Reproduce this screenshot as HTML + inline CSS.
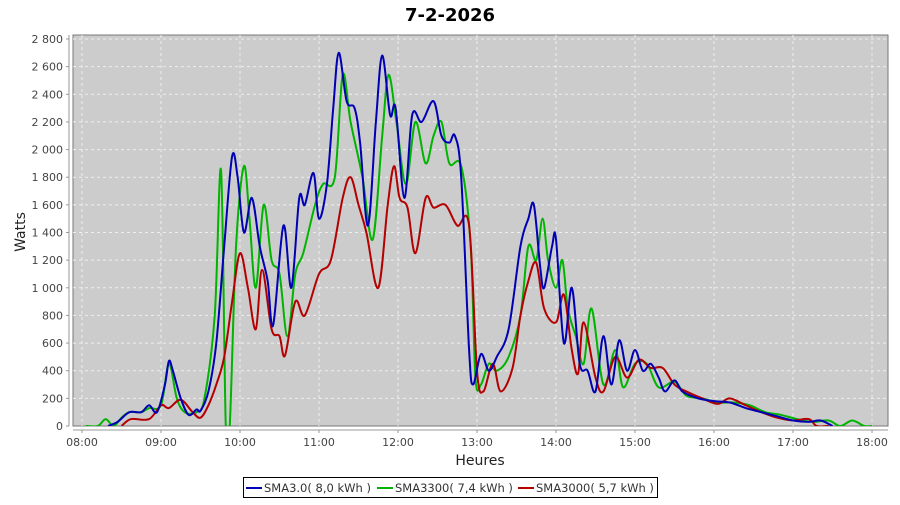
<!DOCTYPE html>
<html><head><meta charset="utf-8"><style>
body{margin:0;background:#fff;}
svg text{font-family:"DejaVu Sans","Liberation Sans",sans-serif;}
</style></head><body>
<svg id="s" width="900" height="500" xmlns="http://www.w3.org/2000/svg">
<rect width="900" height="500" fill="#fff"/>
<text x="450" y="21" text-anchor="middle" font-size="18" font-weight="bold" fill="#000">7-2-2026</text>
<rect x="73" y="35" width="815" height="391" fill="#cccccc" stroke="#777" stroke-width="1"/>
<g id="grid" stroke="#eee" stroke-width="1" stroke-dasharray="3,3"></g>
<line x1="69" y1="35" x2="69" y2="426" stroke="#999"/>
<line x1="73" y1="430" x2="888" y2="430" stroke="#999"/>
<g id="ticks" font-size="11" fill="#444"></g>
<text x="25" y="232" font-size="14" fill="#222" text-anchor="middle" transform="rotate(-90 25 232)">Watts</text>
<text x="480" y="465" font-size="14" fill="#222" text-anchor="middle">Heures</text>
<clipPath id="c"><rect x="73" y="35" width="815" height="391"/></clipPath>
<g id="lines" clip-path="url(#c)" fill="none" stroke-width="2" stroke-linejoin="round"></g>
<rect x="243.5" y="477.5" width="414" height="20" fill="#fff" stroke="#000"/>
<line x1="246" y1="488" x2="262" y2="488" stroke="#0000b4" stroke-width="2"/>
<text x="264" y="492" font-size="11.5" fill="#333">SMA3.0( 8,0 kWh )</text>
<line x1="377" y1="488" x2="393" y2="488" stroke="#00b400" stroke-width="2"/>
<text x="395" y="492" font-size="11.5" fill="#333">SMA3300( 7,4 kWh )</text>
<line x1="518" y1="488" x2="534" y2="488" stroke="#b40000" stroke-width="2"/>
<text x="536" y="492" font-size="11.5" fill="#333">SMA3000( 5,7 kWh )</text>
</svg>
<script>
const NS="http://www.w3.org/2000/svg";
const X=h=>82+(h-8)*79, Y=v=>426-v*(387/2800);
const g=document.getElementById('grid'),t=document.getElementById('ticks');
function el(p,tag,a,txt){const e=document.createElementNS(NS,tag);for(const k in a)e.setAttribute(k,a[k]);if(txt)e.textContent=txt;p.appendChild(e);}
for(let v=0;v<=2800;v+=200){const y=Y(v);if(v>0)el(g,'line',{x1:73,x2:888,y1:y,y2:y});el(t,'line',{x1:66,x2:69,y1:y,y2:y,stroke:'#999'});el(t,'text',{x:63,y:y+4,'text-anchor':'end'},v>=1000?(''+v)[0]+' '+(''+v).slice(1):''+v);}
for(let h=8;h<=18;h++){const x=X(h);el(g,'line',{x1:x,x2:x,y1:35,y2:426});el(t,'line',{x1:x,x2:x,y1:430,y2:433,stroke:'#999'});el(t,'text',{x:x,y:446,'text-anchor':'middle'},(h<10?'0':'')+h+':00');}
const B=[[8.33,0],[8.45,30],[8.6,100],[8.75,100],[8.85,150],[8.95,100],[9.05,300],[9.1,470],[9.15,400],[9.25,200],[9.35,80],[9.45,120],[9.5,110],[9.6,250],[9.7,600],[9.8,1300],[9.9,1950],[9.97,1800],[10.05,1400],[10.15,1650],[10.25,1300],[10.35,1050],[10.42,730],[10.55,1450],[10.65,1000],[10.75,1650],[10.82,1600],[10.93,1830],[11.0,1500],[11.1,1750],[11.18,2300],[11.25,2700],[11.35,2350],[11.45,2300],[11.52,2050],[11.62,1450],[11.72,2200],[11.8,2680],[11.9,2250],[11.97,2300],[12.08,1650],[12.18,2250],[12.3,2200],[12.45,2350],[12.55,2100],[12.65,2050],[12.72,2100],[12.8,1800],[12.9,550],[12.95,300],[13.05,520],[13.15,400],[13.25,500],[13.4,700],[13.55,1300],[13.65,1500],[13.72,1600],[13.8,1150],[13.85,1000],[13.95,1300],[14.0,1350],[14.1,600],[14.2,1000],[14.3,450],[14.4,400],[14.5,250],[14.6,650],[14.7,300],[14.8,620],[14.9,400],[15.0,550],[15.1,400],[15.2,450],[15.3,350],[15.38,250],[15.5,330],[15.6,250],[15.8,200],[16.0,180],[16.2,170],[16.4,130],[16.6,100],[16.8,70],[17.0,40],[17.2,30],[17.35,40],[17.5,0]];
const G=[[8.05,0],[8.2,0],[8.3,50],[8.4,0],[8.5,60],[8.6,100],[8.75,100],[8.85,130],[9.0,150],[9.1,450],[9.2,200],[9.3,100],[9.45,100],[9.55,200],[9.68,800],[9.76,1850],[9.82,0],[9.87,0],[9.95,1300],[10.05,1880],[10.12,1500],[10.2,1000],[10.3,1600],[10.4,1200],[10.5,1100],[10.6,650],[10.7,1100],[10.8,1250],[10.95,1600],[11.05,1750],[11.2,1800],[11.3,2540],[11.4,2200],[11.55,1800],[11.68,1350],[11.8,2100],[11.88,2540],[11.98,2200],[12.1,1750],[12.22,2200],[12.35,1900],[12.45,2100],[12.55,2200],[12.65,1900],[12.8,1880],[12.92,1300],[12.98,350],[13.05,300],[13.15,450],[13.25,400],[13.4,500],[13.55,800],[13.65,1300],[13.75,1200],[13.83,1500],[13.9,1200],[14.0,1000],[14.08,1200],[14.15,850],[14.25,650],[14.35,450],[14.45,850],[14.6,300],[14.75,550],[14.85,280],[15.0,450],[15.15,450],[15.3,280],[15.5,320],[15.65,220],[15.85,200],[16.05,170],[16.25,170],[16.45,150],[16.65,100],[16.85,80],[17.05,50],[17.25,30],[17.45,40],[17.6,0],[17.75,40],[17.9,0],[18.0,0]];
const R=[[8.5,0],[8.62,50],[8.85,50],[9.0,150],[9.1,130],[9.25,190],[9.4,100],[9.5,60],[9.6,150],[9.7,300],[9.8,500],[9.9,900],[10.0,1250],[10.1,1000],[10.2,700],[10.28,1130],[10.4,700],[10.5,650],[10.57,510],[10.7,900],[10.82,800],[11.0,1100],[11.15,1200],[11.3,1650],[11.4,1800],[11.5,1600],[11.6,1400],[11.75,1000],[11.87,1600],[11.95,1880],[12.02,1650],[12.12,1580],[12.22,1250],[12.35,1650],[12.45,1580],[12.6,1600],[12.75,1450],[12.9,1450],[13.0,400],[13.08,250],[13.2,450],[13.3,250],[13.45,420],[13.55,800],[13.65,1050],[13.75,1180],[13.85,850],[14.0,750],[14.1,950],[14.2,550],[14.28,380],[14.35,750],[14.5,350],[14.6,250],[14.75,500],[14.9,350],[15.05,480],[15.2,420],[15.35,420],[15.5,300],[15.65,250],[15.85,200],[16.05,160],[16.2,200],[16.4,150],[16.6,100],[16.8,60],[17.0,40],[17.2,50],[17.3,0],[17.45,0]];
function path(d){const p=d.map(([h,v])=>[X(h),Y(v)]);let s='M'+p[0][0]+','+p[0][1];for(let i=0;i<p.length-1;i++){const a=p[Math.max(0,i-1)],b=p[i],c=p[i+1],e=p[Math.min(p.length-1,i+2)];const k=6;s+=` C${b[0]+(c[0]-a[0])/k},${b[1]+(c[1]-a[1])/k} ${c[0]-(e[0]-b[0])/k},${c[1]-(e[1]-b[1])/k} ${c[0]},${c[1]}`;}return s;}
const L=document.getElementById('lines');
el(L,'path',{d:path(G),stroke:'#00b400'});
el(L,'path',{d:path(R),stroke:'#b40000'});
el(L,'path',{d:path(B),stroke:'#0000b4'});
</script>
</body></html>
